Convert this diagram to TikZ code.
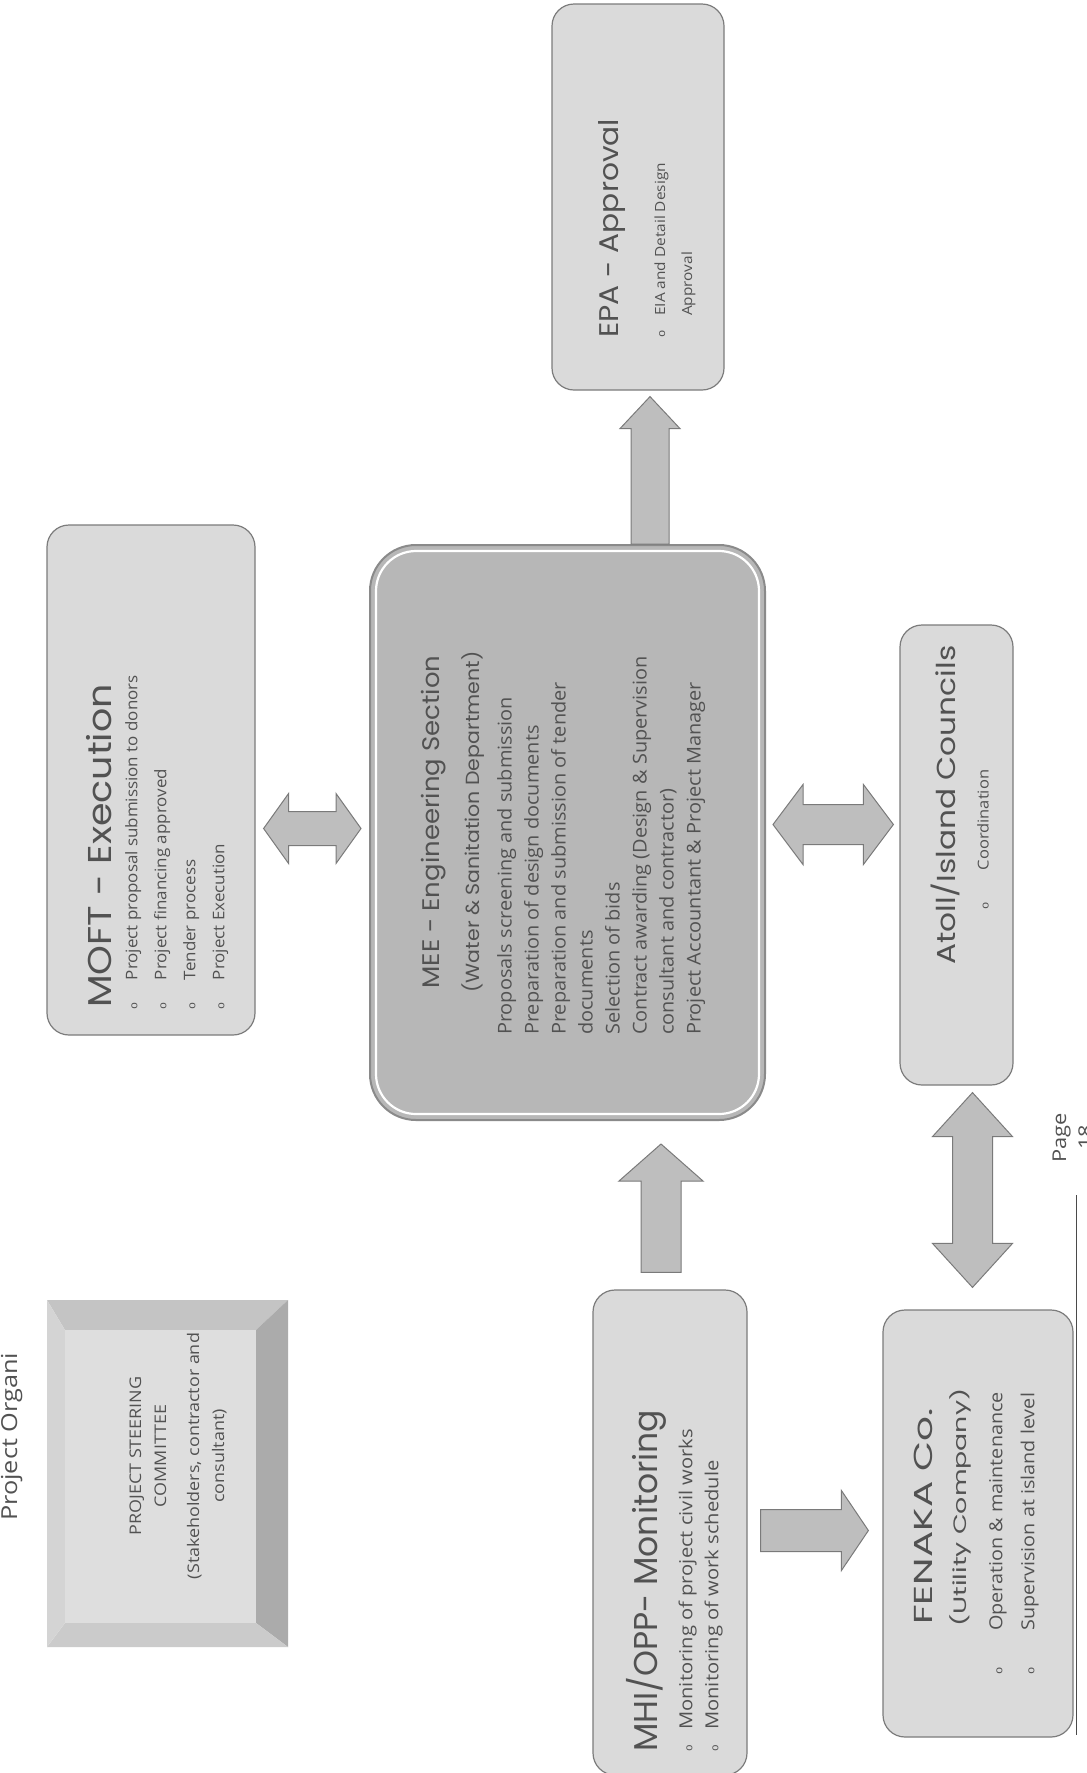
\documentclass[tikz,border=0pt]{standalone}
\usepackage{graphicx}
\usepackage{fontspec}
\setmainfont{Open Sans}
\newfontfamily\ttlfont{Poppins}
\newfontfamily\bulfont{Liberation Mono}
\usetikzlibrary{calc}
\definecolor{boxfill}{HTML}{DADADA}
\definecolor{boxline}{HTML}{7C7C7C}
\definecolor{ctrfill}{HTML}{B7B7B7}
\definecolor{ctrline}{HTML}{8A8A8A}
\definecolor{arrfill}{HTML}{BEBEBE}
\definecolor{arrline}{HTML}{7A7A7A}
\definecolor{txt}{HTML}{525252}
\definecolor{bevtop}{HTML}{C4C4C4}
\definecolor{bevright}{HTML}{ABABAB}
\definecolor{bevbot}{HTML}{CBCBCB}
\definecolor{bevleft}{HTML}{D4D4D4}
\definecolor{bevin}{HTML}{DEDEDE}
\definecolor{rule}{HTML}{4A4A4A}
\newcommand\bulw[1]{\makebox[#1][l]{\bulfont\fontsize{11}{11}\selectfont o}}
\newcommand\blkhdouble[5]{%
 \filldraw[blockarrow] let \p1=#1, \p2=#2 in
 (\x1,\y1) -- (\x1+#5,\y1+#4) -- (\x1+#5,\y1+#3) -- (\x2-#5,\y1+#3) -- (\x2-#5,\y1+#4) -- (\x2,\y1)
 -- (\x2-#5,\y1-#4) -- (\x2-#5,\y1-#3) -- (\x1+#5,\y1-#3) -- (\x1+#5,\y1-#4) -- cycle;}
\newcommand\blkvdouble[5]{%
 \filldraw[blockarrow] let \p1=#1, \p2=#2 in
 (\x1,\y1) -- (\x1+#4,\y1-#5) -- (\x1+#3,\y1-#5) -- (\x1+#3,\y2+#5) -- (\x1+#4,\y2+#5) -- (\x1,\y2)
 -- (\x1-#4,\y2+#5) -- (\x1-#3,\y2+#5) -- (\x1-#3,\y1-#5) -- (\x1-#4,\y1-#5) -- cycle;}
\newcommand\blkup[5]{%
 \filldraw[blockarrow] let \p1=#1, \p2=#2 in
 (\x1,\y1) -- (\x1+#4,\y1-#5) -- (\x1+#3,\y1-#5) -- (\x1+#3,\y2) -- (\x1-#3,\y2) -- (\x1-#3,\y1-#5) -- (\x1-#4,\y1-#5) -- cycle;}
\newcommand\blkright[5]{%
 \filldraw[blockarrow] let \p1=#1, \p2=#2 in
 (\x2,\y1) -- (\x2-#5,\y1+#4) -- (\x2-#5,\y1+#3) -- (\x1,\y1+#3) -- (\x1,\y1-#3) -- (\x2-#5,\y1-#3) -- (\x2-#5,\y1-#4) -- cycle;}
\tikzset{
  lbox/.style={rounded corners=22pt, fill=boxfill, draw=boxline, line width=1.2pt, inner sep=0pt},
  tnode/.style={rotate=90, align=left, inner sep=0pt, text=txt},
  blockarrow/.style={fill=arrfill, draw=arrline, line width=1pt, line join=miter},
}
\begin{document}
\begin{tikzpicture}[x=1pt,y=-1pt]
\useasboundingbox (0,0) rectangle (1087,1773);
\clip (0,0) rectangle (1087,1773);
\fill[white] (0,0) rectangle (1087,1773);

% header
\node[tnode, xscale=1.15, anchor=base west, font=\fontsize{22}{22}\selectfont] (hdr) at (17,1521) {Project Organi};

% steering committee (bevelled)
\node[minimum width=241pt, minimum height=347pt, inner sep=0pt] (steer) at (167.5,1473.5) {};
\fill[bevtop] (47,1300) -- (288,1300) -- (256,1330) -- (65,1330) -- cycle;
\fill[bevright] (288,1300) -- (288,1647) -- (256,1623) -- (256,1330) -- cycle;
\fill[bevbot] (288,1647) -- (47,1647) -- (65,1623) -- (256,1623) -- cycle;
\fill[bevleft] (47,1647) -- (47,1300) -- (65,1330) -- (65,1623) -- cycle;
\fill[bevin] (65,1330) rectangle (256,1623);
\node[tnode, xscale=1.12, align=center, font=\fontsize{16}{25}\selectfont] (steer-t) at (178,1456)
  {PROJECT STEERING\\COMMITTEE\\[8pt](Stakeholders, contractor and\\consultant)};

% boxes
\node[lbox, minimum width=208pt, minimum height=510pt] (moft) at (151,780) {};
\node[lbox, rounded corners=46pt, fill=ctrfill, draw=ctrline, line width=2pt, minimum width=395pt, minimum height=575pt] (ctr) at (567.5,832.5) {};
\draw[white, line width=2.2pt, rounded corners=40pt] ($(ctr.south west)+(7pt,7pt)$) rectangle ($(ctr.north east)+(-7pt,-7pt)$);
\node[lbox, minimum width=172pt, minimum height=386pt] (epa) at (638,197) {};
\node[lbox, minimum width=113pt, minimum height=460pt] (atoll) at (956.5,855) {};
\node[lbox, minimum width=154pt, minimum height=485pt] (mhi) at (670,1532.5) {};
\node[lbox, minimum width=190pt, minimum height=427pt] (fen) at (978,1523.5) {};

% texts
\node[tnode, xscale=1.15, anchor=north west, font=\fontsize{33}{33}\selectfont\ttlfont] (moft-t) at (86,1008) {MOFT - Execution};
\node[tnode, xscale=1.06, anchor=north west, font=\fontsize{16}{29}\selectfont] (moft-b) at (125,1010)
 {\bulw{28pt}Project proposal submission to donors\\
  \bulw{28pt}Project financing approved\\
  \bulw{28pt}Tender process\\
  \bulw{28pt}Project Execution};

\node[tnode, xscale=1.08, anchor=north, align=center, font=\fontsize{19}{36}\selectfont] (ctr-t) at (421,822)
 {{\ttlfont\fontsize{24}{24}\selectfont MEE - Engineering Section}\\[4pt]
  {\ttlfont (Water \& Sanitation Department)}};
\node[tnode, xscale=1.05, anchor=north west, font=\fontsize{19}{27}\selectfont] (ctr-l) at (497,1035)
 {Proposals screening and submission\\
  Preparation of design documents\\
  Preparation and submission of tender\\
  documents\\
  Selection of bids\\
  Contract awarding (Design \& Supervision\\
  consultant and contractor)\\
  Project Accountant \& Project Manager};

\node[tnode, xscale=1.1, anchor=north west, font=\fontsize{14}{27}\selectfont] (epa-t) at (598,338)
 {{\ttlfont\fontsize{27}{27}\selectfont EPA - Approval}\\[20pt]
  \bulw{20pt}EIA and Detail Design\\
  \hspace*{20pt}Approval};

\node[tnode, xscale=1.2, anchor=north west, font=\fontsize{26}{26}\selectfont\ttlfont] (atoll-t) at (931,965) {Atoll/Island Councils};
\node[tnode, xscale=1.1, anchor=north west, font=\fontsize{15}{15}\selectfont] (atoll-b) at (977,910) {\bulw{36pt}Coordination};

\node[tnode, anchor=north west, font=\fontsize{18}{26}\selectfont] (mhi-t) at (626,1752)
 {{\ttlfont\fontsize{33}{33}\selectfont MHI/OPP- Monitoring}\\[9pt]
  \bulw{22pt}\scalebox{1.12}[1]{Monitoring of project civil works}\\
  \bulw{22pt}\scalebox{1.12}[1]{Monitoring of work schedule}};

\node[tnode, xscale=1.5, anchor=north west, font=\fontsize{26}{26}\selectfont\ttlfont] (fen-t) at (914,1625) {FENAKA Co.};
\node[tnode, xscale=1.49, anchor=north west, font=\fontsize{18}{18}\selectfont\ttlfont] (fen-u) at (949,1627) {(Utility Company)};
\node[tnode, xscale=1.1, anchor=north west, font=\fontsize{18}{32}\selectfont] (fen-b) at (989,1675)
 {\bulw{40pt}Operation \& maintenance\\
  \bulw{40pt}Supervision at island level};

% block arrows
\coordinate (a1l) at ($(moft.east |- ctr.center)+(8pt,4pt)$);
\coordinate (a1r) at ($(ctr.west)+(-8pt,4pt)$);
\blkhdouble{(a1l)}{(a1r)}{17pt}{35pt}{25pt}

\coordinate (a2t) at ($(epa.south)+(12pt,-6pt)$);
\coordinate (a2b) at (a2t |- ctr.north);
\blkup{(a2t)}{(a2b)}{19pt}{30pt}{32pt}

\coordinate (a3b) at ($(mhi.north)+(-9pt,17pt)$);
\coordinate (a3t) at ($(a3b |- ctr.south)+(0,-23pt)$);
\blkup{(a3t)}{(a3b)}{20pt}{42pt}{37pt}

\coordinate (a4l) at ($(ctr.east)+(7pt,8pt)$);
\coordinate (a4r) at ($(a4l -| atoll.west)+(-6pt,0)$);
\blkhdouble{(a4l)}{(a4r)}{20pt}{40pt}{30pt}

\coordinate (a5t) at ($(atoll.south)+(16pt,-7pt)$);
\coordinate (a5b) at ($(a5t |- fen.north)+(0,22pt)$);
\blkvdouble{(a5t)}{(a5b)}{20pt}{40pt}{44pt}

\coordinate (a6l) at ($(mhi.east)+(13pt,2pt)$);
\coordinate (a6r) at ($(a6l -| fen.west)+(-14pt,0)$);
\blkright{(a6l)}{(a6r)}{21pt}{40pt}{27pt}

% footer
\node[tnode, xscale=1.15, anchor=base west, font=\fontsize{19}{19}\selectfont] (pg) at (1066,1163) {Page};
\node[tnode, xscale=1.15, anchor=base west, font=\fontsize{19}{19}\selectfont] (pgn) at (1092,1150) {18};
\draw[rule, line width=1pt] (1076,1195) -- (1076,1735);
\end{tikzpicture}
\end{document}
